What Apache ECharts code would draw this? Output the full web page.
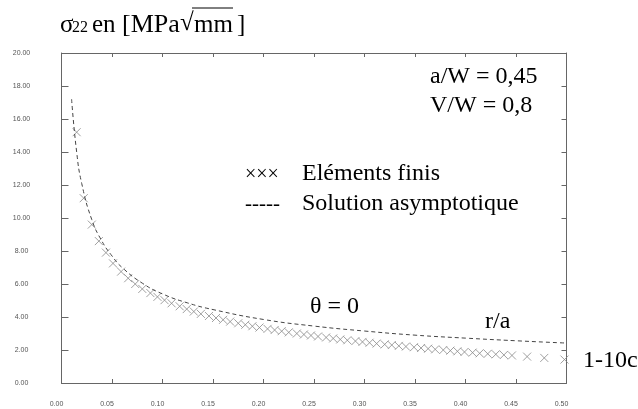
<!DOCTYPE html>
<html>
<head>
<meta charset="utf-8">
<script src="https://cdn.jsdelivr.net/npm/echarts@6/dist/echarts.min.js"></script>
<style>
  html, body { margin: 0; padding: 0; background: #fff; }
  #chart { width: 638px; height: 409px; }
</style>
</head>
<body>
<div id="chart"></div>
<script>
// Finite element results: r/a and sigma_22
var feX = [0.015, 0.022, 0.030, 0.037, 0.044, 0.051, 0.059, 0.066, 0.073, 0.080,
           0.088, 0.095, 0.102, 0.109, 0.117, 0.124, 0.131, 0.138, 0.146, 0.153,
           0.160, 0.167, 0.175, 0.182, 0.189, 0.196, 0.204, 0.211, 0.218, 0.225,
           0.233, 0.240, 0.247, 0.254, 0.262, 0.269, 0.276, 0.283, 0.291, 0.298,
           0.305, 0.312, 0.320, 0.327, 0.334, 0.341, 0.349, 0.356, 0.363, 0.370,
           0.378, 0.385, 0.392, 0.399, 0.407, 0.414, 0.422, 0.430, 0.438, 0.446,
           0.461, 0.478, 0.498];
var feY = [15.2, 11.2, 9.6, 8.6, 7.9, 7.25, 6.75, 6.35, 6.0, 5.7,
           5.45, 5.22, 5.02, 4.83, 4.65, 4.48, 4.33, 4.19, 4.06, 3.94,
           3.83, 3.72, 3.62, 3.53, 3.44, 3.36, 3.28, 3.21, 3.14, 3.07,
           3.00, 2.94, 2.88, 2.82, 2.76, 2.70, 2.64, 2.59, 2.54, 2.49,
           2.44, 2.39, 2.34, 2.30, 2.25, 2.21, 2.17, 2.12, 2.08, 2.04,
           2.00, 1.96, 1.92, 1.88, 1.84, 1.80, 1.77, 1.74, 1.70, 1.67,
           1.60, 1.52, 1.42];

// Asymptotic solution
var asX = [0.010, 0.015, 0.020, 0.030, 0.040, 0.050, 0.060, 0.080, 0.100, 0.125,
           0.150, 0.200, 0.250, 0.300, 0.350, 0.400, 0.450, 0.500];
var asY = [17.2, 14.0, 12.1, 9.9, 8.6, 7.7, 7.0, 6.05, 5.4, 4.85,
           4.45, 3.85, 3.45, 3.15, 2.9, 2.72, 2.56, 2.42];

var xMin = 0, xMax = 0.5, xStep = 0.05;
var yMin = 0, yMax = 20, yStep = 2;

function zip(a, b) { return a.map(function (v, i) { return [v, b[i]]; }); }

var axisGray = '#666';
var labelStyle = { color: '#555', fontFamily: 'Liberation Sans, Arial, sans-serif', fontSize: 7 };
var serif = 'Liberation Serif, Times New Roman, serif';

var chart = echarts.init(document.getElementById('chart'), null, { renderer: 'canvas' });

function xAxisCfg(pos, showLabel) {
  return {
    type: 'value', position: pos, min: xMin, max: xMax, interval: xStep,
    axisLine: { show: true, onZero: false, lineStyle: { color: axisGray, width: 1 } },
    axisTick: { show: true, inside: true, length: 4, lineStyle: { color: axisGray } },
    axisLabel: showLabel ? Object.assign({ show: true, margin: 18, padding: [0, 10, 0, 0],
      formatter: function (v) { return v.toFixed(2); } }, labelStyle) : { show: false },
    splitLine: { show: false }
  };
}
function yAxisCfg(pos, showLabel) {
  return {
    type: 'value', position: pos, min: yMin, max: yMax, interval: yStep,
    axisLine: { show: true, onZero: false, lineStyle: { color: axisGray, width: 1 } },
    axisTick: { show: true, inside: true, length: showLabel ? 7 : 5, lineStyle: { color: axisGray } },
    axisLabel: showLabel ? Object.assign({ show: true, margin: 40, align: 'center', padding: [0, 0, 6, 0],
      formatter: function (v) { return v.toFixed(2); } }, labelStyle) : { show: false },
    splitLine: { show: false }
  };
}

function txt(left, top, s, size) {
  return { type: 'text', left: left, top: top,
    style: { text: s, fill: '#000', font: size + 'px ' + serif } };
}

var graphics = [
  txt(430, 65, 'a/W = 0,45', 24),
  txt(430, 94, 'V/W = 0,8', 24),
  txt(245, 165, '\u00d7\u00d7\u00d7', 20),
  txt(302, 162, 'Eléments finis', 24),
  txt(245, 194, '-----', 21),
  txt(302, 192, 'Solution asymptotique', 24),
  txt(310, 295, '\u03b8 = 0', 24),
  txt(485, 310, 'r/a', 24),
  txt(583, 349, '1-10c', 24),
  // Axis title: sigma_22 en [MPa sqrt(mm)]
  txt(60, 13, '\u03c3', 25),
  txt(72, 20, '22', 16),
  txt(92, 13, 'en', 25),
  txt(122, 12, '[MPa', 26),
  txt(180, 11, '\u221a', 25),
  txt(194, 13, 'mm', 25),
  txt(237, 13, ']', 25),
  { type: 'line', shape: { x1: 192, y1: 8, x2: 233, y2: 8 }, style: { stroke: '#000', lineWidth: 1 } }
];

chart.setOption({
  animation: false,
  grid: { left: 61.5, right: 71.5, top: 53, bottom: 26, containLabel: false },
  xAxis: [xAxisCfg('bottom', true), xAxisCfg('top', false)],
  yAxis: [yAxisCfg('left', true), yAxisCfg('right', false)],
  series: [
    {
      name: 'Solution asymptotique', type: 'line', smooth: true, showSymbol: false,
      data: zip(asX, asY),
      lineStyle: { color: '#444', width: 1, type: [4, 3] }
    },
    {
      name: 'Eléments finis', type: 'scatter',
      symbol: 'path://M0,0L10,10M10,0L0,10', symbolSize: 8,
      data: zip(feX, feY),
      itemStyle: { color: 'none', borderColor: '#888', borderWidth: 1 }
    }
  ],
  graphic: graphics
});
</script>
</body>
</html>
